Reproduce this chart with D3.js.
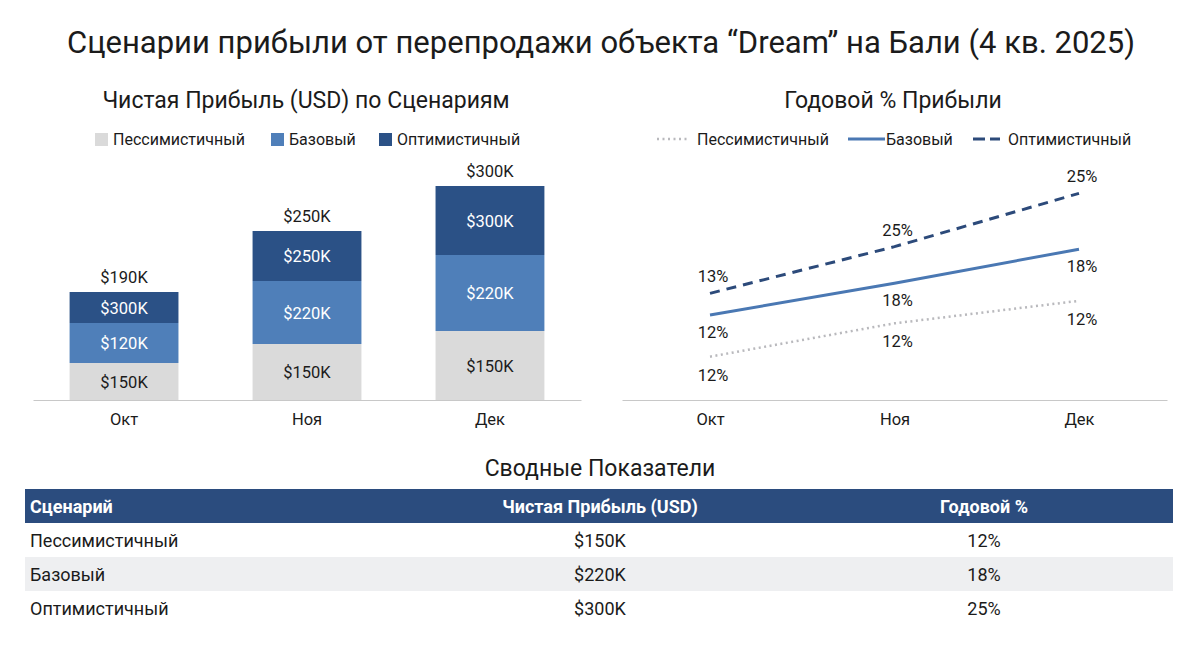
<!DOCTYPE html>
<html>
<head>
<meta charset="utf-8">
<script src="https://cdn.jsdelivr.net/npm/d3@7"></script>
<style>
    body { margin: 0; background: #fff; font-family: Roboto, "Noto Sans", sans-serif; }
    text { fill: #1b1b1b; }
</style>
</head>
<body>
<script>

// months on both charts
const months = ["Окт", "Ноя", "Дек"];
const scenarios = ["Пессимистичный", "Базовый", "Оптимистичный"];

// stacked bar segment sizes (thousands USD)
const barPess = [74, 112, 138];
const barBase = [80, 126, 152];
const barOpt = [62, 100, 138];

// labels as printed on the bars
const labelPess = ["$150K", "$150K", "$150K"];
const labelBase = ["$120K", "$220K", "$220K"];
const labelOpt = ["$300K", "$250K", "$300K"];
const labelTotal = ["$190K", "$250K", "$300K"];

const linePess = [5.2, 9.2, 11.9];
const lineBase = [10.2, 14.0, 18.1];
const lineOpt = [12.8, 18.4, 24.8];

// labels printed next to the line points
const lineLabelPess = ["12%", "12%", "12%"];
const lineLabelBase = ["12%", "18%", "18%"];
const lineLabelOpt = ["13%", "25%", "25%"];

// summary table
const tableHeader = ["Сценарий", "Чистая Прибыль (USD)", "Годовой %"];
const tableProfit = ["$150K", "$220K", "$300K"];
const tableAnnual = ["12%", "18%", "25%"];

const colors = ["#dadada", "#4f7fb9", "#2b5186"];

var svg = d3.select("body").append("svg")
    .attr("width", 1200)
    .attr("height", 654);

svg.append("rect").attr("width", 1200).attr("height", 654).attr("fill", "#fff");

// main title
svg.append("text")
    .attr("x", 601).attr("y", 53)
    .attr("text-anchor", "middle")
    .style("font-size", "31px")
    .text("Сценарии прибыли от перепродажи объекта “Dream” на Бали (4 кв. 2025)");

// ---------- bar chart ----------
var xBar = d3.scaleBand()
    .domain(months)
    .range([33, 581])
    .paddingInner(0.405)
    .paddingOuter(0.2);

var yBar = d3.scaleLinear()
    .domain([0, 500])
    .range([400, 150]);

svg.append("text")
    .attr("x", 306).attr("y", 108)
    .attr("text-anchor", "middle")
    .style("font-size", "23px")
    .text("Чистая Прибыль (USD) по Сценариям");

// legend
var barLegX = [95, 271, 379];
scenarios.forEach(function (s, i) {
    svg.append("rect")
        .attr("x", barLegX[i]).attr("y", 133)
        .attr("width", 13).attr("height", 13)
        .attr("fill", colors[i]);
    svg.append("text")
        .attr("x", barLegX[i] + 18).attr("y", 145)
        .style("font-size", "16px")
        .text(s);
});

var stackData = months.map(function (m, i) {
    return { month: m, pess: barPess[i], base: barBase[i], opt: barOpt[i] };
});
var series = d3.stack().keys(["pess", "base", "opt"])(stackData);
var segLabels = [labelPess, labelBase, labelOpt];

series.forEach(function (s, k) {
    var g = svg.append("g");
    g.selectAll("rect")
        .data(s)
        .enter().append("rect")
        .attr("x", function (d) { return xBar(d.data.month) })
        .attr("y", function (d) { return yBar(d[1]) })
        .attr("width", xBar.bandwidth())
        .attr("height", function (d) { return yBar(d[0]) - yBar(d[1]) })
        .attr("fill", colors[k]);
    g.selectAll("text")
        .data(s)
        .enter().append("text")
        .attr("x", function (d) { return xBar(d.data.month) + xBar.bandwidth() / 2 })
        .attr("y", function (d) { return (yBar(d[0]) + yBar(d[1])) / 2 + 6 })
        .attr("text-anchor", "middle")
        .style("font-size", "16.5px")
        .style("fill", k == 0 ? "#1b1b1b" : "#fff")
        .text(function (d, i) { return segLabels[k][i] });
});

// totals above bars
svg.selectAll(".total")
    .data(series[2])
    .enter().append("text")
    .attr("class", "total")
    .attr("x", function (d) { return xBar(d.data.month) + xBar.bandwidth() / 2 })
    .attr("y", function (d) { return yBar(d[1]) - 9 })
    .attr("text-anchor", "middle")
    .style("font-size", "16.5px")
    .text(function (d, i) { return labelTotal[i] });

var xAxisBar = svg.append("g")
    .attr("transform", "translate(0,400)")
    .call(d3.axisBottom(xBar).tickSize(0).tickPadding(13));
xAxisBar.select(".domain").attr("stroke", "#c8c8c8");
xAxisBar.selectAll("text").style("font-size", "16.5px").style("font-family", "Roboto").attr("fill", "#1b1b1b");

// ---------- line chart ----------
var xLine = d3.scalePoint()
    .domain(months)
    .range([622, 1167])
    .padding(0.477);

var yLine = d3.scaleLinear()
    .domain([0, 30])
    .range([400, 150]);

svg.append("text")
    .attr("x", 893).attr("y", 108)
    .attr("text-anchor", "middle")
    .style("font-size", "23px")
    .text("Годовой % Прибыли");

var lineStyles = [
    { color: "#b9b9bd", width: 2.5, dash: "2,3.5" },
    { color: "#4a78b3", width: 3, dash: null },
    { color: "#2c4a7a", width: 3, dash: "10,7" }
];

// legend
var lineLegX = [[657, 690], [848, 885], [973, 1000]];
var lineLegDash = ["2,3.5", null, "12,5"];
var lineLegText = [697, 886, 1008];
scenarios.forEach(function (s, i) {
    svg.append("line")
        .attr("x1", lineLegX[i][0]).attr("x2", lineLegX[i][1])
        .attr("y1", 139).attr("y2", 139)
        .attr("stroke", lineStyles[i].color)
        .attr("stroke-width", lineStyles[i].width)
        .attr("stroke-dasharray", lineLegDash[i]);
    svg.append("text")
        .attr("x", lineLegText[i]).attr("y", 145)
        .style("font-size", "16px")
        .text(s);
});

var lineData = [linePess, lineBase, lineOpt];
var lineLabels = [lineLabelPess, lineLabelBase, lineLabelOpt];
var labelOffset = [24, 23, -11];

var line = d3.line()
    .x(function (d, i) { return xLine(months[i]) })
    .y(function (d) { return yLine(d) });

lineData.forEach(function (vals, k) {
    svg.append("path")
        .datum(vals)
        .attr("d", line)
        .attr("fill", "none")
        .attr("stroke", lineStyles[k].color)
        .attr("stroke-width", lineStyles[k].width)
        .attr("stroke-dasharray", lineStyles[k].dash);
    svg.append("g").selectAll("text")
        .data(vals)
        .enter().append("text")
        .attr("x", function (d, i) { return xLine(months[i]) + 3 })
        .attr("y", function (d) { return yLine(d) + labelOffset[k] })
        .attr("text-anchor", "middle")
        .style("font-size", "16.5px")
        .text(function (d, i) { return lineLabels[k][i] });
});

var xAxisLine = svg.append("g")
    .attr("transform", "translate(0,400)")
    .call(d3.axisBottom(xLine).tickSize(0).tickPadding(13));
xAxisLine.select(".domain").attr("stroke", "#c8c8c8");
xAxisLine.selectAll("text").style("font-size", "16.5px").style("font-family", "Roboto").attr("fill", "#1b1b1b");

// ---------- summary table ----------
svg.append("text")
    .attr("x", 600).attr("y", 476)
    .attr("text-anchor", "middle")
    .style("font-size", "23px")
    .text("Сводные Показатели");

var rowY = d3.scaleBand()
    .domain(["head"].concat(scenarios))
    .range([489, 625]);

var colX = [30, 600, 984];
var colAnchor = ["start", "middle", "middle"];

svg.append("rect")
    .attr("x", 25).attr("y", rowY("head"))
    .attr("width", 1148).attr("height", rowY.bandwidth())
    .attr("fill", "#2b4c7e");

tableHeader.forEach(function (h, j) {
    svg.append("text")
        .attr("x", colX[j]).attr("y", rowY("head") + rowY.bandwidth() / 2 + 6.5)
        .attr("text-anchor", colAnchor[j])
        .style("font-size", "18px")
        .style("font-weight", "bold")
        .style("fill", "#fff")
        .text(h);
});

scenarios.forEach(function (s, i) {
    var y0 = rowY(s);
    svg.append("rect")
        .attr("x", 25).attr("y", y0)
        .attr("width", 1148).attr("height", rowY.bandwidth())
        .attr("fill", i == 1 ? "#eeeff1" : "#fff");
    [s, tableProfit[i], tableAnnual[i]].forEach(function (v, j) {
        svg.append("text")
            .attr("x", colX[j]).attr("y", y0 + rowY.bandwidth() / 2 + 6.5)
            .attr("text-anchor", colAnchor[j])
            .style("font-size", "18px")
            .text(v);
    });
});

</script>
</body>
</html>
